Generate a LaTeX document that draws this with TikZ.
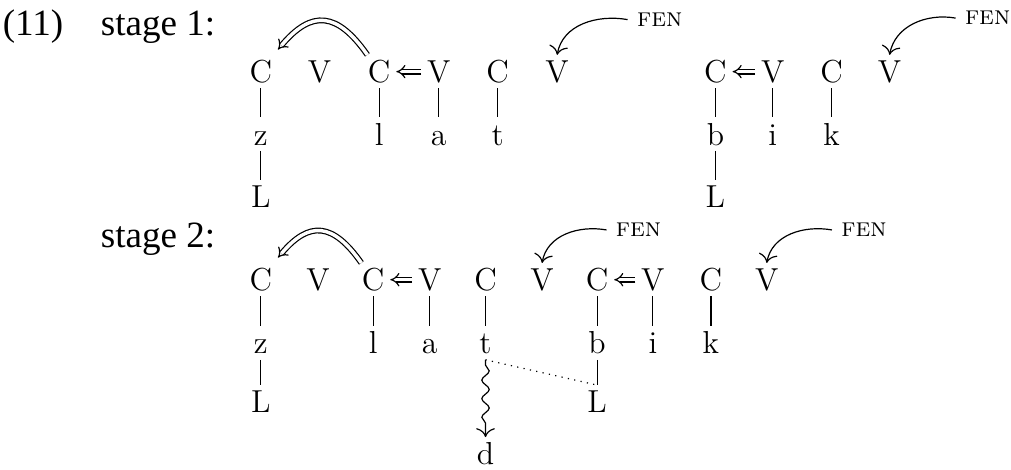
\documentclass[tikz,border=0pt]{standalone}
\usepackage{fontspec}
\newfontfamily\timesfont{Liberation Serif}
\usetikzlibrary{arrows.meta,decorations.pathmorphing}

\begin{document}
\begin{tikzpicture}[seg/.style={inner sep=2pt, text height=8.2pt, text depth=0pt, font=\large},
	lbl/.style={inner sep=0pt, anchor=base west, font=\timesfont\fontsize{14}{17}\selectfont},
	fen/.style={font=\normalsize\scshape},
	spread/.style={double, double distance=1.3pt, -{Implies[scale=1.25]}},
	line width=0.45pt, >={To[scale=1.3]}]
	%\draw[help lines] (0,0) grid (13,6);
	\useasboundingbox (0,0) rectangle (13.41,6.23);

	\node[lbl] (num) at (0.03,5.755) {(11)};
	\node[lbl] (stageA) at (1.33,5.755) {stage 1:};
	\node[lbl] (stageB) at (1.33,2.944) {stage 2:};

	% stage 1
	\node[seg] (Ca1) at (3.46,5.28) {C};
	\node[seg] (Va1) at (4.24,5.28) {V};
	\node[seg] (Cb1) at (5.03,5.28) {C};
	\node[seg] (Vb1) at (5.82,5.28) {V};
	\node[seg] (Cc1) at (6.60,5.28) {C};
	\node[seg] (Vc1) at (7.39,5.28) {V};
	\node[seg] (Cd1) at (9.49,5.28) {C};
	\node[seg] (Vd1) at (10.25,5.28) {V};
	\node[seg] (Ce1) at (11.03,5.28) {C};
	\node[seg] (Ve1) at (11.80,5.28) {V};

	\node[seg] (z1) at (3.46,4.45) {z};
	\node[seg] (l1) at (5.03,4.45) {l};
	\node[seg] (a1) at (5.82,4.45) {a};
	\node[seg] (t1) at (6.60,4.45) {t};
	\node[seg] (b1) at (9.49,4.45) {b};
	\node[seg] (i1) at (10.25,4.45) {i};
	\node[seg] (k1) at (11.03,4.45) {k};
	\node[seg] (Lz1) at (3.46,3.62) {L};
	\node[seg] (Lb1) at (9.49,3.62) {L};

	\node[fen] (fenA1) at (8.75,5.97) {fen};
	\node[fen] (fenB1) at (13.10,5.99) {fen};

	\draw (Ca1) -- (z1);
	\draw (z1) -- (Lz1);
	\draw (Cb1) -- (l1);
	\draw (Vb1) -- (a1);
	\draw (Cc1) -- (t1);
	\draw (Cd1) -- (b1);
	\draw (b1) -- (Lb1);
	\draw (Vd1) -- (i1);
	\draw (Ce1) -- (k1);

	\draw[spread] (Vb1) -- (Cb1);
	\draw[spread] (Vd1) -- (Cd1);
	\draw[spread] ([xshift=2pt]Cb1.north west) to[out=125,in=50,looseness=1.5] ([yshift=2pt]Ca1.north east);
	\draw[->] (fenA1.west) to[out=170,in=80] (Vc1.north);
	\draw[->] (fenB1.west) to[out=170,in=80] (Ve1.north);

	% stage 2
	\node[seg] (Ca2) at (3.46,2.52) {C};
	\node[seg] (Va2) at (4.22,2.52) {V};
	\node[seg] (Cb2) at (4.95,2.52) {C};
	\node[seg] (Vb2) at (5.70,2.52) {V};
	\node[seg] (Cc2) at (6.44,2.52) {C};
	\node[seg] (Vc2) at (7.19,2.52) {V};
	\node[seg] (Cd2) at (7.92,2.52) {C};
	\node[seg] (Vd2) at (8.66,2.52) {V};
	\node[seg] (Ce2) at (9.43,2.52) {C};
	\node[seg] (Ve2) at (10.17,2.52) {V};

	\node[seg] (z2) at (3.46,1.68) {z};
	\node[seg] (l2) at (4.95,1.68) {l};
	\node[seg] (a2) at (5.70,1.68) {a};
	\node[seg] (t2) at (6.44,1.68) {t};
	\node[seg] (b2) at (7.92,1.68) {b};
	\node[seg] (i2) at (8.66,1.68) {i};
	\node[seg] (k2) at (9.43,1.68) {k};
	\node[seg] (Lz2) at (3.46,0.90) {L};
	\node[seg] (Lb2) at (7.92,0.90) {L};
	\node[seg] (d2) at (6.44,0.21) {d};

	\node[fen] (fenA2) at (8.47,3.18) {fen};
	\node[fen] (fenB2) at (11.46,3.18) {fen};

	\draw (Ca2) -- (z2);
	\draw (z2) -- (Lz2);
	\draw (Cb2) -- (l2);
	\draw (Vb2) -- (a2);
	\draw (Cc2) -- (t2);
	\draw (Cd2) -- (b2);
	\draw (b2) -- (Lb2);
	\draw (Vd2) -- (i2);
	\draw (Ce2) -- (k2);

	\draw[spread] (Vb2) -- (Cb2);
	\draw[spread] (Vd2) -- (Cd2);
	\draw[spread] ([xshift=2pt]Cb2.north west) to[out=125,in=50,looseness=1.5] ([yshift=2pt]Ca2.north east);
	\draw[->] (fenA2.west) to[out=170,in=80] (Vc2.north);
	\draw[->] (fenB2.west) to[out=170,in=80] (Ve2.north);

	\draw[dotted] (t2.south) -- (Lb2.north);
	\draw[->, decorate, decoration={snake, amplitude=1.4pt, segment length=7pt, pre length=2pt, post length=3pt}] (t2.south) -- (d2.north);

\end{tikzpicture}
\end{document}
